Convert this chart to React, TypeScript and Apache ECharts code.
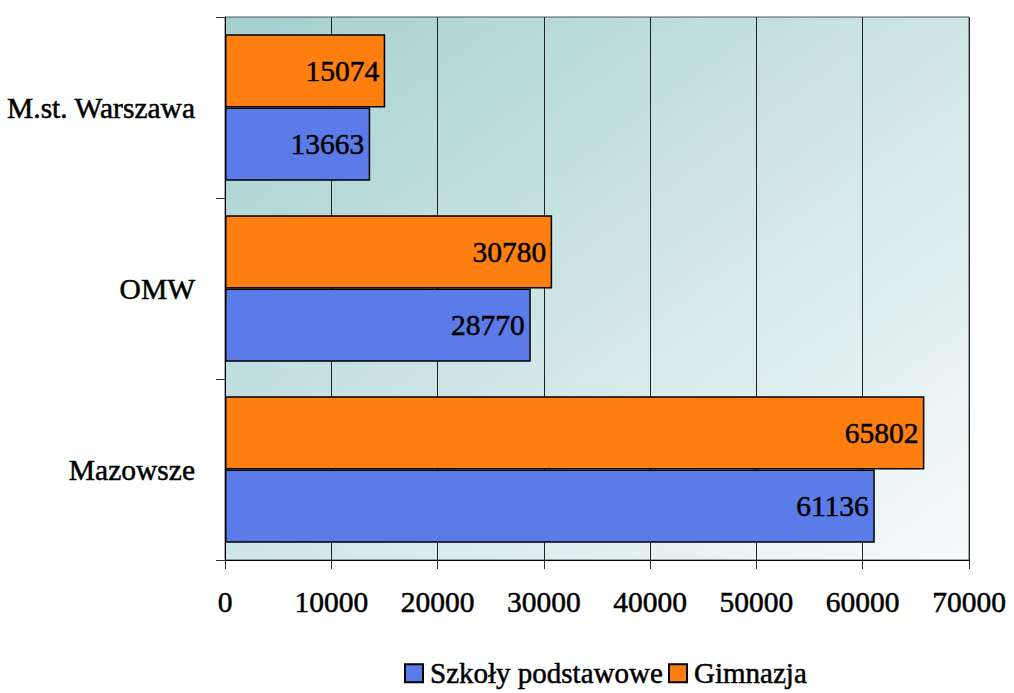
import React, { useEffect, useRef } from "react";
import * as echarts from "echarts";

const categories = ["Mazowsze", "OMW", "M.st. Warszawa"];
const szkolyPodstawowe = [61136, 28770, 13663];
const gimnazja = [65802, 30780, 15074];
const seriesNames = ["Szkoły podstawowe", "Gimnazja"];
const xTicks = { min: 0, max: 70000, interval: 10000 };

const FONT = "Liberation Serif";
const FS = 29.5;
const heavy = { textBorderColor: "#000", textBorderWidth: 0.5 };

export default function App() {
  const ref = useRef<HTMLDivElement>(null);
  useEffect(() => {
    if (!ref.current) return;
    const chart = echarts.init(ref.current, undefined, { renderer: "svg" });
    const label = {
      show: true,
      position: "insideRight",
      distance: 6,
      color: "#000",
      fontSize: FS,
      fontFamily: FONT,
      ...heavy,
    };
    chart.setOption({
      animation: false,
      backgroundColor: "#fff",
      textStyle: { fontFamily: FONT },
      grid: {
        left: 225,
        right: 45,
        top: 17,
        bottom: 133,
        show: true,
        borderColor: "#555",
        borderWidth: 1,
        backgroundColor: new echarts.graphic.LinearGradient(0, 0, 1, 1, [
          { offset: 0, color: "#a4d0cf" },
          { offset: 1, color: "#f7fbfb" },
        ]),
      },
      legend: {
        bottom: 0,
        left: 399,
        itemWidth: 18,
        itemHeight: 18,
        itemGap: 5,
        icon: "rect",
        textStyle: { fontSize: 29, fontFamily: FONT, color: "#000", padding: [0, 0, 0, 2], ...heavy },
        data: seriesNames,
      },
      xAxis: {
        type: "value",
        min: xTicks.min,
        max: xTicks.max,
        interval: xTicks.interval,
        axisLine: { show: true, lineStyle: { color: "#000", width: 1 } },
        axisTick: { show: true, length: 9, lineStyle: { color: "#333" } },
        axisLabel: {
          fontSize: FS,
          fontFamily: FONT,
          color: "#000",
          margin: 27,
          formatter: (v: number) => String(v),
          ...heavy,
        },
        splitLine: { show: true, lineStyle: { color: "#222", width: 1 } },
      },
      yAxis: {
        type: "category",
        data: categories,
        axisLine: { show: true, lineStyle: { color: "#000", width: 1 } },
        axisTick: { show: true, length: 9, alignWithLabel: false, lineStyle: { color: "#333" } },
        axisLabel: { fontSize: FS, fontFamily: FONT, color: "#000", margin: 30, ...heavy },
        splitLine: { show: false },
      },
      series: [
        {
          name: seriesNames[1],
          type: "bar",
          data: gimnazja,
          barGap: "0%",
          barCategoryGap: "19%",
          itemStyle: { color: "#fe7f0f", borderColor: "#000", borderWidth: 1.5 },
          label,
        },
        {
          name: seriesNames[0],
          type: "bar",
          data: szkolyPodstawowe,
          barGap: "0%",
          barCategoryGap: "19%",
          itemStyle: { color: "#5b7be8", borderColor: "#000", borderWidth: 1.5 },
          label,
        },
      ],
    });
    return () => chart.dispose();
  }, []);
  return <div ref={ref} style={{ width: 1014, height: 693, position: "absolute", left: 0, top: 0 }} />;
}
